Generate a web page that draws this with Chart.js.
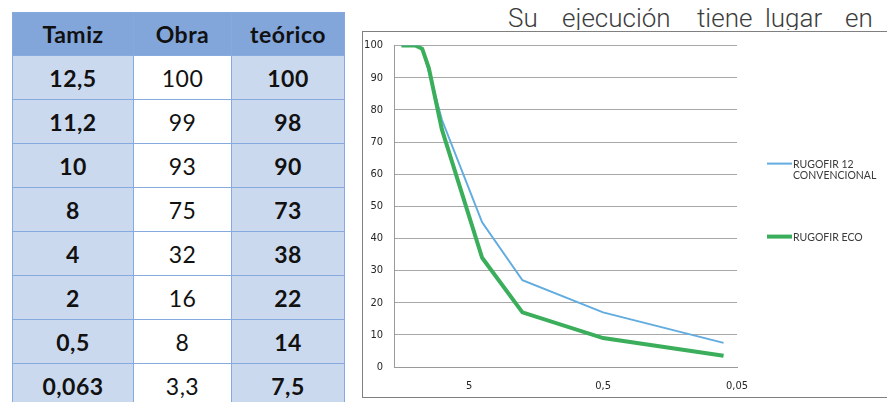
<!DOCTYPE html>
<html>
<head>
<meta charset="utf-8">
<script src="https://cdn.jsdelivr.net/npm/chart.js@4.4.0/dist/chart.umd.min.js"></script>
<style>
    html, body { margin: 0; padding: 0; background: #fff; }
    body { width: 887px; height: 402px; position: relative; overflow: hidden; font-family: Lato, sans-serif; }

    .sieve-table { position: absolute; left: 12px; top: 12px; border-collapse: collapse; }
    .sieve-table th, .sieve-table td {
        border: 1px solid #86aadf; text-align: center; padding: 0;
        font-size: 23px; letter-spacing: 0.5px; color: #111;
    }
    .sieve-table th { background: #82a6da; height: 42px; font-weight: bold; }
    .sieve-table td { background: #cbd9ee; height: 43px; }
    .sieve-table td.b { font-weight: bold; }
    .sieve-table td.obra { background: #fff; font-weight: normal; }

    .intro { position: absolute; left: 0; top: 0; width: 887px; height: 30px; overflow: hidden;
             font-family: Roboto, sans-serif; font-weight: 300; font-size: 26px; line-height: 26px; color: #3c3c3c; }
    .intro span { position: absolute; top: 5px; white-space: nowrap; }

    .chart-box { position: absolute; left: 362px; top: 31px; width: 560px; height: 367px; border: 1px solid #808080; box-sizing: border-box; }
    #curve { position: absolute; left: 362px; top: 28px; }
</style>
</head>
<body>
<div class="intro"></div>
<table class="sieve-table" id="sieve-table">
    <colgroup><col style="width:121px"><col style="width:98px"><col style="width:113px"></colgroup>
    <thead><tr><th>Tamiz</th><th>Obra</th><th>teórico</th></tr></thead>
    <tbody></tbody>
</table>
<div class="chart-box"></div>
<canvas id="curve" width="520" height="371"></canvas>

<script>
// Table values
const tamiz = ['12,5', '11,2', '10', '8', '4', '2', '0,5', '0,063'];
const obra = ['100', '99', '93', '75', '32', '16', '8', '3,3'];
const teorico = ['100', '98', '90', '73', '38', '22', '14', '7,5'];

// Chart values
const sieves = [16, 12.5, 11.2, 10, 8, 4, 2, 0.5, 0.063];
const convencional = [100, 100, 99, 92, 77, 45, 27, 17, 7.5];
const eco = [100, 100, 99, 93, 74, 34, 17, 9, 3.5];
const seriesNames = ['RUGOFIR 12\nCONVENCIONAL', 'RUGOFIR ECO'];
const xTickValues = [5, 0.5, 0.05];

// Heading words
const introWords = [['Su', 508], ['ejecución', 562], ['tiene', 697], ['lugar', 765], ['en', 845]];

document.addEventListener('DOMContentLoaded', function() {
    const intro = document.querySelector('.intro');
    introWords.forEach(([word, left]) => {
        const span = document.createElement('span');
        span.textContent = word;
        span.style.left = left + 'px';
        intro.appendChild(span);
    });

    const tbody = document.querySelector('#sieve-table tbody');
    tamiz.forEach((t, i) => {
        const tr = document.createElement('tr');
        tr.innerHTML = `<td class="b">${t}</td><td class="obra">${obra[i]}</td><td class="b">${teorico[i]}</td>`;
        tbody.appendChild(tr);
    });

    initCurveChart();
});

// Legend drawn at the right of the plot, spaced like the original
const sideLegend = {
    id: 'sideLegend',
    afterDraw(chart) {
        const { ctx, chartArea } = chart;
        const offsets = [118, 191];
        ctx.save();
        ctx.font = '10.5px Lato, sans-serif';
        ctx.fillStyle = '#3a3a3a';
        ctx.textBaseline = 'middle';
        chart.data.datasets.forEach((ds, i) => {
            const x = chartArea.right + 30;
            const y = chartArea.top + offsets[i];
            ctx.strokeStyle = ds.borderColor;
            ctx.lineWidth = ds.borderWidth;
            ctx.beginPath();
            ctx.moveTo(x, y);
            ctx.lineTo(x + 25, y);
            ctx.stroke();
            seriesNames[i].split('\n').forEach((line, j) => {
                ctx.fillText(line, x + 26, y + 1 + j * 11);
            });
        });
        ctx.restore();
    }
};

function initCurveChart() {
    const ctx = document.getElementById('curve').getContext('2d');
    const axisFont = { family: "'Liberation Sans Narrow', 'DejaVu Sans Condensed', sans-serif", size: 11 };

    new Chart(ctx, {
        type: 'line',
        data: {
            datasets: [
                {
                    label: seriesNames[0],
                    data: sieves.map((s, i) => ({ x: s, y: convencional[i] })),
                    borderColor: '#62acdf',
                    borderWidth: 2,
                    order: 1
                },
                {
                    label: seriesNames[1],
                    data: sieves.map((s, i) => ({ x: s, y: eco[i] })),
                    borderColor: '#3aae5a',
                    borderWidth: 4,
                    order: 0
                }
            ]
        },
        options: {
            responsive: false,
            animation: false,
            layout: { padding: { top: 10, right: 145, left: 0, bottom: 0 } },
            elements: { point: { radius: 0 }, line: { tension: 0 } },
            plugins: {
                legend: { display: false },
                tooltip: { enabled: false }
            },
            scales: {
                x: {
                    type: 'logarithmic',
                    reverse: true,
                    min: 0.05,
                    max: 18.2,
                    grid: { display: false, drawTicks: false },
                    border: { display: true, color: '#9a9a9a' },
                    afterBuildTicks: function(scale) {
                        scale.ticks = xTickValues.map(v => ({ value: v }));
                    },
                    afterFit: function(scale) { scale.height = 32; },
                    ticks: {
                        padding: 13,
                        autoSkip: false,
                        maxRotation: 0,
                        color: '#262626',
                        font: axisFont,
                        callback: function(value) {
                            return String(value).replace('.', ',');
                        }
                    }
                },
                y: {
                    min: 0,
                    max: 100,
                    grid: { color: '#a8a8a8', drawTicks: false },
                    border: { display: true, color: '#9a9a9a' },
                    afterFit: function(scale) { scale.width = 32; },
                    ticks: {
                        stepSize: 10,
                        padding: 11,
                        color: '#262626',
                        font: axisFont
                    }
                }
            }
        },
        plugins: [sideLegend]
    });
}
</script>
</body>
</html>
